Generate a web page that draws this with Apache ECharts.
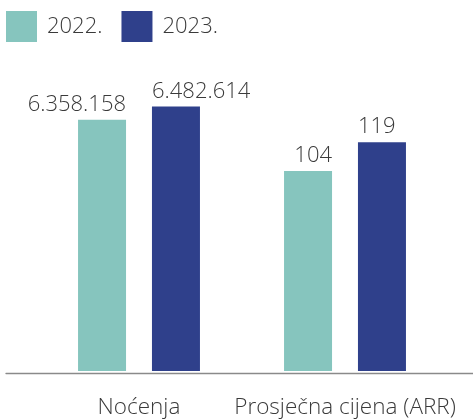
<!DOCTYPE html>
<html>
<head>
<meta charset="utf-8">
<script src="https://cdn.jsdelivr.net/npm/echarts@6/dist/echarts.min.js"></script>
<style>
  html, body { margin: 0; padding: 0; background: #ffffff; }
  #chart { width: 473px; height: 419px; }
</style>
</head>
<body>
<div id="chart"></div>
<script>
const categories = ['Noćenja', 'Prosječna cijena (ARR)'];
const seriesNames = ['2022.', '2023.'];
const nocenja = [6358158, 6482614];   // 2022, 2023
const arr = [104, 119];               // 2022, 2023

const colors = ['#86C5BE', '#2F408B'];
const FONT = '"Open Sans", "Noto Sans", sans-serif';
const TXT = '#3a3a3a';
const W = 300;

function fmt(v) {
  return String(v).replace(/\B(?=(\d{3})+(?!\d))/g, '.');
}

function barLabel(i) {
  return {
    show: true,
    position: 'top',
    distance: 4,
    align: i === 0 ? 'right' : 'left',
    offset: [i === 0 ? 24 : -24, 0],
    color: TXT,
    fontFamily: FONT,
    fontWeight: W,
    fontSize: 22,
    formatter: p => fmt(p.value)
  };
}

const series = [];
seriesNames.forEach((name, i) => {
  series.push({
    name: name,
    type: 'bar',
    xAxisIndex: 0,
    yAxisIndex: 0,
    barWidth: 48,
    barGap: '54%',
    itemStyle: { color: colors[i] },
    label: barLabel(i),
    data: [nocenja[i], '-']
  });
});
seriesNames.forEach((name, i) => {
  series.push({
    name: name,
    type: 'bar',
    xAxisIndex: 1,
    yAxisIndex: 1,
    barWidth: 48,
    barGap: '54%',
    itemStyle: { color: colors[i] },
    label: barLabel(i),
    data: ['-', arr[i]]
  });
});

const chart = echarts.init(document.getElementById('chart'), null, { renderer: 'canvas' });
chart.setOption({
  animation: false,
  color: colors,
  legend: {
    left: 6,
    top: 11,
    padding: 0,
    icon: 'rect',
    itemWidth: 31,
    itemHeight: 31,
    itemGap: 19,
    data: seriesNames,
    textStyle: { color: TXT, fontFamily: FONT, fontWeight: W, fontSize: 22, padding: [0, 0, 0, 5] }
  },
  grid: [
    { left: 36, right: 25, top: 73, bottom: 46 },
    { left: 6, right: 0, top: 73, bottom: 46 }
  ],
  xAxis: [
    {
      type: 'category', gridIndex: 0, data: categories,
      axisLine: { show: false },
      axisTick: { show: false },
      axisLabel: {
        interval: 0, hideOverlap: false,
        color: TXT, fontFamily: FONT, fontWeight: W, fontSize: 22.5, margin: 25
      }
    },
    { type: 'category', gridIndex: 0, data: categories, show: false },
    {
      type: 'category', gridIndex: 1, data: categories,
      axisLine: { lineStyle: { color: '#8a8a8a', width: 1.3 } },
      axisTick: { show: false },
      axisLabel: { show: false }
    }
  ],
  yAxis: [
    { type: 'value', gridIndex: 0, min: 4000000, max: 6796000, show: false, splitLine: { show: false } },
    { type: 'value', gridIndex: 0, min: 0, max: 155, show: false, splitLine: { show: false } },
    { type: 'value', gridIndex: 1, min: 0, max: 1, show: false, splitLine: { show: false } }
  ],
  series: series
});
</script>
</body>
</html>
